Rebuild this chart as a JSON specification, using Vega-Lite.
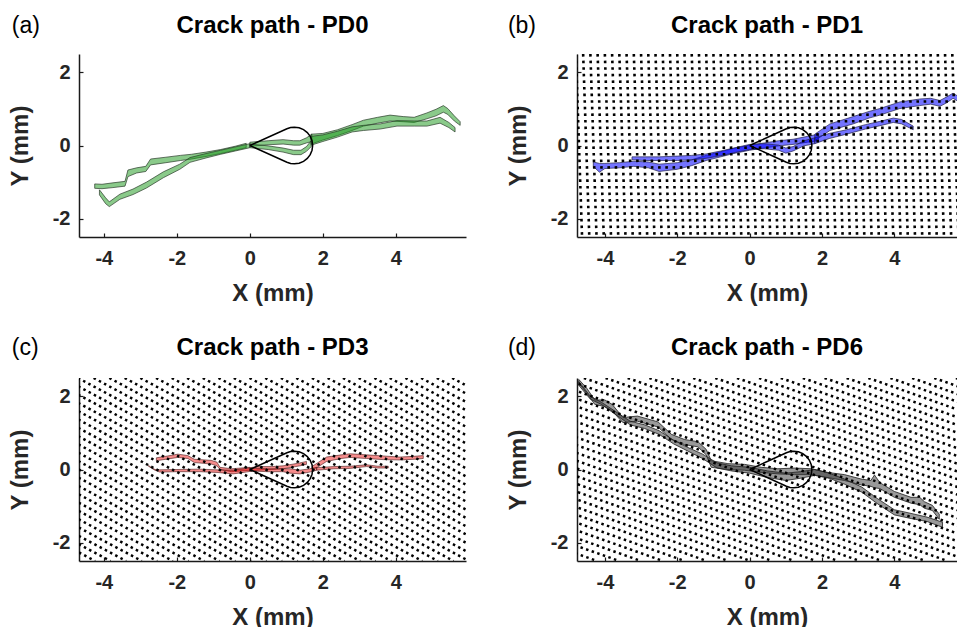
{
  "$schema": "https://vega.github.io/schema/vega-lite/v6.json",
  "background": "white",
  "padding": {"left": 8, "top": 14, "right": 0, "bottom": 0},
  "config": {
    "view": {"stroke": null},
    "font": "Liberation Sans",
    "axis": {"grid": false, "domain": true, "domainColor": "#1a1a1a", "domainOpacity": 1, "domainWidth": 1.5, "ticks": true, "tickColor": "#1a1a1a", "tickOpacity": 1, "tickWidth": 1.2, "tickSize": -4, "zindex": 1, "labelFont": "Liberation Sans", "labelFontWeight": "bold", "labelFontSize": 20, "labelColor": "#262626", "titleFont": "Liberation Sans", "titleFontWeight": "bold", "titleFontSize": 24, "titleColor": "#262626", "labelExpr": "replace(datum.label, '−', '-')"},
    "axisX": {"labelPadding": 15, "titlePadding": 13},
    "axisY": {"labelPadding": 13, "titlePadding": 20},
    "title": {"font": "Liberation Sans", "fontSize": 24, "fontWeight": "bold", "color": "#000000", "offset": -23, "frame": "group"}
  },
  "datasets": {
    "tear": [
      {"o": 0, "x": 0, "y": 0}, {"o": 1, "x": 1.015, "y": 0.456}, {"o": 2, "x": 1.116, "y": 0.489}, {"o": 3, "x": 1.22, "y": 0.5},
      {"o": 4, "x": 1.349, "y": 0.483}, {"o": 5, "x": 1.47, "y": 0.433}, {"o": 6, "x": 1.574, "y": 0.354}, {"o": 7, "x": 1.653, "y": 0.25},
      {"o": 8, "x": 1.703, "y": 0.129}, {"o": 9, "x": 1.72, "y": 0}, {"o": 10, "x": 1.703, "y": -0.129}, {"o": 11, "x": 1.653, "y": -0.25},
      {"o": 12, "x": 1.574, "y": -0.354}, {"o": 13, "x": 1.47, "y": -0.433}, {"o": 14, "x": 1.349, "y": -0.483}, {"o": 15, "x": 1.22, "y": -0.5},
      {"o": 16, "x": 1.116, "y": -0.489}, {"o": 17, "x": 1.015, "y": -0.456}, {"o": 18, "x": 0, "y": 0}
    ],
    "pa": [
      {"b": "a1", "x": -4.25, "y": -1.17, "y2": -1.05}, {"b": "a1", "x": -4.05, "y": -1.18, "y2": -1.06}, {"b": "a1", "x": -3.75, "y": -1.15, "y2": -1.02},
      {"b": "a1", "x": -3.42, "y": -1.11, "y2": -0.98}, {"b": "a1", "x": -3.34, "y": -0.85, "y2": -0.67}, {"b": "a1", "x": -3.1, "y": -0.75, "y2": -0.61},
      {"b": "a1", "x": -2.85, "y": -0.71, "y2": -0.57}, {"b": "a1", "x": -2.72, "y": -0.53, "y2": -0.37}, {"b": "a1", "x": -2.3, "y": -0.47, "y2": -0.32},
      {"b": "a1", "x": -1.9, "y": -0.41, "y2": -0.27}, {"b": "a1", "x": -1.6, "y": -0.37, "y2": -0.24}, {"b": "a1", "x": -1.2, "y": -0.30, "y2": -0.18},
      {"b": "a1", "x": -0.8, "y": -0.22, "y2": -0.11}, {"b": "a1", "x": -0.4, "y": -0.13, "y2": -0.02}, {"b": "a1", "x": -0.1, "y": -0.06, "y2": 0.06},
      {"b": "a2", "x": -4.12, "y": -1.35, "y2": -1.21}, {"b": "a2", "x": -3.95, "y": -1.59, "y2": -1.43}, {"b": "a2", "x": -3.85, "y": -1.67, "y2": -1.54},
      {"b": "a2", "x": -3.56, "y": -1.47, "y2": -1.33}, {"b": "a2", "x": -3.2, "y": -1.34, "y2": -1.19}, {"b": "a2", "x": -2.83, "y": -1.16, "y2": -1.0},
      {"b": "a2", "x": -2.37, "y": -0.88, "y2": -0.72}, {"b": "a2", "x": -1.92, "y": -0.65, "y2": -0.51}, {"b": "a2", "x": -1.64, "y": -0.46, "y2": -0.33},
      {"b": "a2", "x": -1.2, "y": -0.34, "y2": -0.22}, {"b": "a2", "x": -0.8, "y": -0.24, "y2": -0.13}, {"b": "a2", "x": -0.4, "y": -0.15, "y2": -0.04},
      {"b": "a2", "x": 0.0, "y": -0.06, "y2": 0.05},
      {"b": "a3", "x": 0.0, "y": -0.02, "y2": 0.09}, {"b": "a3", "x": 0.5, "y": 0.02, "y2": 0.13}, {"b": "a3", "x": 0.91, "y": 0.04, "y2": 0.16},
      {"b": "a3", "x": 1.2, "y": 0.01, "y2": 0.13}, {"b": "a3", "x": 1.37, "y": 0.01, "y2": 0.13}, {"b": "a3", "x": 1.55, "y": 0.07, "y2": 0.21},
      {"b": "a3", "x": 1.7, "y": 0.11, "y2": 0.31},
      {"b": "a4", "x": 0.0, "y": -0.06, "y2": 0.04}, {"b": "a4", "x": 0.5, "y": -0.11, "y2": -0.01}, {"b": "a4", "x": 0.91, "y": -0.18, "y2": -0.07},
      {"b": "a4", "x": 1.2, "y": -0.25, "y2": -0.13}, {"b": "a4", "x": 1.4, "y": -0.25, "y2": -0.13}, {"b": "a4", "x": 1.55, "y": -0.16, "y2": -0.03},
      {"b": "a4", "x": 1.68, "y": -0.03, "y2": 0.13},
      {"b": "a5", "x": 1.68, "y": 0.04, "y2": 0.31}, {"b": "a5", "x": 2.0, "y": 0.15, "y2": 0.33}, {"b": "a5", "x": 2.4, "y": 0.27, "y2": 0.43},
      {"b": "a5", "x": 2.8, "y": 0.41, "y2": 0.57}, {"b": "a5", "x": 3.11, "y": 0.53, "y2": 0.69}, {"b": "a5", "x": 3.5, "y": 0.61, "y2": 0.77},
      {"b": "a5", "x": 3.84, "y": 0.67, "y2": 0.83}, {"b": "a5", "x": 4.2, "y": 0.65, "y2": 0.79}, {"b": "a5", "x": 4.5, "y": 0.63, "y2": 0.77},
      {"b": "a5", "x": 4.85, "y": 0.73, "y2": 0.89}, {"b": "a5", "x": 5.1, "y": 0.81, "y2": 0.99}, {"b": "a5", "x": 5.3, "y": 0.91, "y2": 1.09},
      {"b": "a5", "x": 5.42, "y": 0.85, "y2": 1.01}, {"b": "a5", "x": 5.6, "y": 0.67, "y2": 0.81}, {"b": "a5", "x": 5.76, "y": 0.55, "y2": 0.65},
      {"b": "a6", "x": 1.68, "y": 0.01, "y2": 0.25}, {"b": "a6", "x": 2.0, "y": 0.11, "y2": 0.29}, {"b": "a6", "x": 2.4, "y": 0.23, "y2": 0.39},
      {"b": "a6", "x": 2.8, "y": 0.37, "y2": 0.51}, {"b": "a6", "x": 3.11, "y": 0.41, "y2": 0.55}, {"b": "a6", "x": 3.57, "y": 0.45, "y2": 0.59},
      {"b": "a6", "x": 4.03, "y": 0.53, "y2": 0.68}, {"b": "a6", "x": 4.5, "y": 0.53, "y2": 0.67}, {"b": "a6", "x": 4.85, "y": 0.53, "y2": 0.67},
      {"b": "a6", "x": 5.21, "y": 0.61, "y2": 0.77}, {"b": "a6", "x": 5.45, "y": 0.49, "y2": 0.63}, {"b": "a6", "x": 5.62, "y": 0.37, "y2": 0.49}
    ],
    "pb": [
      {"b": "b1", "x": -4.32, "y": -0.57, "y2": -0.45}, {"b": "b1", "x": -4.15, "y": -0.73, "y2": -0.49}, {"b": "b1", "x": -4.0, "y": -0.63, "y2": -0.49},
      {"b": "b1", "x": -3.6, "y": -0.61, "y2": -0.47}, {"b": "b1", "x": -3.2, "y": -0.57, "y2": -0.43}, {"b": "b1", "x": -2.8, "y": -0.61, "y2": -0.45},
      {"b": "b1", "x": -2.5, "y": -0.71, "y2": -0.51}, {"b": "b1", "x": -2.0, "y": -0.65, "y2": -0.47}, {"b": "b1", "x": -1.6, "y": -0.55, "y2": -0.39},
      {"b": "b1", "x": -1.2, "y": -0.41, "y2": -0.27}, {"b": "b1", "x": -0.8, "y": -0.31, "y2": -0.17}, {"b": "b1", "x": -0.4, "y": -0.21, "y2": -0.07},
      {"b": "b1", "x": 0.0, "y": -0.13, "y2": 0.01}, {"b": "b1", "x": 0.4, "y": -0.07, "y2": 0.07}, {"b": "b1", "x": 0.8, "y": -0.01, "y2": 0.13},
      {"b": "b1", "x": 1.2, "y": 0.03, "y2": 0.17}, {"b": "b1", "x": 1.6, "y": 0.09, "y2": 0.25}, {"b": "b1", "x": 1.9, "y": 0.13, "y2": 0.31},
      {"b": "b2", "x": -3.25, "y": -0.39, "y2": -0.31}, {"b": "b2", "x": -2.9, "y": -0.41, "y2": -0.31}, {"b": "b2", "x": -2.5, "y": -0.41, "y2": -0.31},
      {"b": "b2", "x": -2.0, "y": -0.41, "y2": -0.29}, {"b": "b2", "x": -1.6, "y": -0.39, "y2": -0.27}, {"b": "b2", "x": -1.2, "y": -0.35, "y2": -0.23},
      {"b": "b2", "x": -0.8, "y": -0.28, "y2": -0.15}, {"b": "b2", "x": -0.4, "y": -0.19, "y2": -0.06}, {"b": "b2", "x": 0.0, "y": -0.11, "y2": 0.03},
      {"b": "b2", "x": 0.4, "y": -0.09, "y2": 0.05}, {"b": "b2", "x": 0.8, "y": -0.13, "y2": 0.01}, {"b": "b2", "x": 1.0, "y": -0.21, "y2": -0.07},
      {"b": "b2", "x": 1.2, "y": -0.15, "y2": -0.03}, {"b": "b2", "x": 1.5, "y": -0.01, "y2": 0.13}, {"b": "b2", "x": 1.8, "y": 0.05, "y2": 0.21},
      {"b": "b3", "x": 1.8, "y": 0.13, "y2": 0.31}, {"b": "b3", "x": 2.22, "y": 0.41, "y2": 0.59}, {"b": "b3", "x": 2.86, "y": 0.59, "y2": 0.79},
      {"b": "b3", "x": 3.3, "y": 0.75, "y2": 0.93}, {"b": "b3", "x": 3.6, "y": 0.83, "y2": 1.01}, {"b": "b3", "x": 4.15, "y": 1.01, "y2": 1.19},
      {"b": "b3", "x": 4.7, "y": 1.09, "y2": 1.27}, {"b": "b3", "x": 5.0, "y": 1.13, "y2": 1.29}, {"b": "b3", "x": 5.26, "y": 1.07, "y2": 1.23},
      {"b": "b3", "x": 5.45, "y": 1.17, "y2": 1.33}, {"b": "b3", "x": 5.62, "y": 1.29, "y2": 1.43}, {"b": "b3", "x": 5.75, "y": 1.21, "y2": 1.35},
      {"b": "b4", "x": 1.8, "y": 0.05, "y2": 0.21}, {"b": "b4", "x": 2.2, "y": 0.19, "y2": 0.33}, {"b": "b4", "x": 2.68, "y": 0.31, "y2": 0.43},
      {"b": "b4", "x": 3.2, "y": 0.45, "y2": 0.57}, {"b": "b4", "x": 3.6, "y": 0.54, "y2": 0.66}, {"b": "b4", "x": 3.97, "y": 0.63, "y2": 0.75},
      {"b": "b4", "x": 4.2, "y": 0.59, "y2": 0.71}, {"b": "b4", "x": 4.52, "y": 0.43, "y2": 0.53}
    ],
    "pc": [
      {"b": "c1", "x": -2.56, "y": 0.24, "y2": 0.32}, {"b": "c1", "x": -2.3, "y": 0.28, "y2": 0.36}, {"b": "c1", "x": -1.97, "y": 0.33, "y2": 0.42},
      {"b": "c1", "x": -1.7, "y": 0.3, "y2": 0.38}, {"b": "c1", "x": -1.52, "y": 0.19, "y2": 0.28}, {"b": "c1", "x": -1.06, "y": 0.15, "y2": 0.25},
      {"b": "c1", "x": -0.9, "y": 0.1, "y2": 0.2}, {"b": "c1", "x": -0.82, "y": 0.0, "y2": 0.06}, {"b": "c1", "x": -0.5, "y": -0.06, "y2": 0.02},
      {"b": "c1", "x": 0.0, "y": -0.02, "y2": 0.06},
      {"b": "c2", "x": -2.78, "y": 0.09, "y2": 0.11}, {"b": "c2", "x": -2.6, "y": -0.02, "y2": 0.0}, {"b": "c2", "x": -2.47, "y": -0.07, "y2": -0.01},
      {"b": "c2", "x": -2.0, "y": -0.06, "y2": 0.0}, {"b": "c2", "x": -1.37, "y": -0.06, "y2": 0.01}, {"b": "c2", "x": -0.9, "y": -0.08, "y2": -0.01},
      {"b": "c2", "x": -0.46, "y": -0.12, "y2": -0.02}, {"b": "c2", "x": -0.1, "y": -0.07, "y2": 0.03}, {"b": "c2", "x": 0.2, "y": -0.02, "y2": 0.08},
      {"b": "c2", "x": 0.6, "y": 0.0, "y2": 0.08}, {"b": "c2", "x": 0.91, "y": 0.02, "y2": 0.1}, {"b": "c2", "x": 1.37, "y": 0.1, "y2": 0.18},
      {"b": "c2", "x": 1.55, "y": 0.14, "y2": 0.22},
      {"b": "c3", "x": 0.0, "y": -0.04, "y2": 0.04}, {"b": "c3", "x": 0.5, "y": -0.06, "y2": 0.02}, {"b": "c3", "x": 0.91, "y": -0.06, "y2": 0.02},
      {"b": "c3", "x": 1.1, "y": -0.1, "y2": 0.02}, {"b": "c3", "x": 1.37, "y": -0.12, "y2": -0.02}, {"b": "c3", "x": 1.64, "y": -0.07, "y2": 0.02},
      {"b": "c3", "x": 1.83, "y": -0.02, "y2": 0.06},
      {"b": "c4", "x": 1.7, "y": 0.0, "y2": 0.08}, {"b": "c4", "x": 1.85, "y": 0.06, "y2": 0.18}, {"b": "c4", "x": 2.1, "y": 0.22, "y2": 0.34},
      {"b": "c4", "x": 2.5, "y": 0.3, "y2": 0.4}, {"b": "c4", "x": 2.74, "y": 0.33, "y2": 0.43}, {"b": "c4", "x": 3.2, "y": 0.3, "y2": 0.4},
      {"b": "c4", "x": 3.65, "y": 0.27, "y2": 0.37}, {"b": "c4", "x": 4.11, "y": 0.26, "y2": 0.34}, {"b": "c4", "x": 4.5, "y": 0.28, "y2": 0.36},
      {"b": "c4", "x": 4.75, "y": 0.3, "y2": 0.38},
      {"b": "c5", "x": 1.83, "y": -0.02, "y2": 0.05}, {"b": "c5", "x": 2.3, "y": 0.02, "y2": 0.08}, {"b": "c5", "x": 2.74, "y": 0.03, "y2": 0.09},
      {"b": "c5", "x": 3.2, "y": 0.08, "y2": 0.13}, {"b": "c5", "x": 3.5, "y": 0.04, "y2": 0.09}, {"b": "c5", "x": 3.79, "y": 0.04, "y2": 0.09}
    ],
    "pd": [
      {"b": "d1", "x": -4.72, "y": 2.36, "y2": 2.46}, {"b": "d1", "x": -4.5, "y": 2.08, "y2": 2.22}, {"b": "d1", "x": -4.28, "y": 1.78, "y2": 1.9},
      {"b": "d1", "x": -4.0, "y": 1.72, "y2": 1.9}, {"b": "d1", "x": -3.8, "y": 1.6, "y2": 1.78}, {"b": "d1", "x": -3.5, "y": 1.28, "y2": 1.42},
      {"b": "d1", "x": -3.1, "y": 1.32, "y2": 1.46}, {"b": "d1", "x": -2.53, "y": 1.16, "y2": 1.3}, {"b": "d1", "x": -2.16, "y": 0.82, "y2": 0.96},
      {"b": "d1", "x": -1.8, "y": 0.68, "y2": 0.82}, {"b": "d1", "x": -1.43, "y": 0.62, "y2": 0.76}, {"b": "d1", "x": -1.2, "y": 0.4, "y2": 0.55},
      {"b": "d1", "x": -1.06, "y": 0.06, "y2": 0.24}, {"b": "d1", "x": -0.6, "y": 0.0, "y2": 0.16}, {"b": "d1", "x": -0.14, "y": -0.02, "y2": 0.14},
      {"b": "d1", "x": 0.32, "y": -0.08, "y2": 0.06}, {"b": "d1", "x": 0.78, "y": -0.12, "y2": 0.02}, {"b": "d1", "x": 1.24, "y": -0.14, "y2": 0.04},
      {"b": "d1", "x": 1.7, "y": -0.14, "y2": 0.02}, {"b": "d1", "x": 2.16, "y": -0.22, "y2": -0.08}, {"b": "d1", "x": 2.62, "y": -0.3, "y2": -0.14},
      {"b": "d1", "x": 3.08, "y": -0.42, "y2": -0.26}, {"b": "d1", "x": 3.35, "y": -0.46, "y2": -0.3}, {"b": "d1", "x": 3.45, "y": -0.5, "y2": -0.15},
      {"b": "d1", "x": 3.6, "y": -0.52, "y2": -0.36}, {"b": "d1", "x": 4.0, "y": -0.76, "y2": -0.6}, {"b": "d1", "x": 4.46, "y": -0.92, "y2": -0.76},
      {"b": "d1", "x": 4.7, "y": -0.96, "y2": -0.76}, {"b": "d1", "x": 4.83, "y": -1.06, "y2": -0.88}, {"b": "d1", "x": 5.05, "y": -1.12, "y2": -0.98},
      {"b": "d1", "x": 5.24, "y": -1.36, "y2": -1.22},
      {"b": "d2", "x": -4.72, "y": 2.3, "y2": 2.4}, {"b": "d2", "x": -4.4, "y": 1.92, "y2": 2.0}, {"b": "d2", "x": -4.1, "y": 1.78, "y2": 1.84},
      {"b": "d2", "x": -3.7, "y": 1.5, "y2": 1.58}, {"b": "d2", "x": -3.3, "y": 1.22, "y2": 1.32}, {"b": "d2", "x": -2.9, "y": 1.12, "y2": 1.22},
      {"b": "d2", "x": -2.5, "y": 0.96, "y2": 1.06}, {"b": "d2", "x": -2.1, "y": 0.7, "y2": 0.8}, {"b": "d2", "x": -1.7, "y": 0.5, "y2": 0.6},
      {"b": "d2", "x": -1.3, "y": 0.3, "y2": 0.42}, {"b": "d2", "x": -0.9, "y": 0.04, "y2": 0.18}, {"b": "d2", "x": -0.5, "y": -0.04, "y2": 0.1},
      {"b": "d2", "x": 0.0, "y": -0.1, "y2": 0.06}, {"b": "d2", "x": 0.5, "y": -0.22, "y2": -0.04}, {"b": "d2", "x": 1.0, "y": -0.3, "y2": -0.1},
      {"b": "d2", "x": 1.4, "y": -0.24, "y2": -0.06}, {"b": "d2", "x": 1.8, "y": -0.16, "y2": 0.0}, {"b": "d2", "x": 2.2, "y": -0.24, "y2": -0.1},
      {"b": "d2", "x": 2.62, "y": -0.4, "y2": -0.26}, {"b": "d2", "x": 3.1, "y": -0.62, "y2": -0.48}, {"b": "d2", "x": 3.54, "y": -0.94, "y2": -0.8},
      {"b": "d2", "x": 4.0, "y": -1.24, "y2": -1.1}, {"b": "d2", "x": 4.46, "y": -1.34, "y2": -1.2}, {"b": "d2", "x": 4.9, "y": -1.42, "y2": -1.3},
      {"b": "d2", "x": 5.33, "y": -1.58, "y2": -1.44}
    ],
    "hb": [
      {"x": -5.0, "x2": -4.83}, {"x": -4.8, "x2": -4.63}, {"x": -4.6, "x2": -4.43}, {"x": -4.4, "x2": -4.23}, {"x": -4.2, "x2": -4.03},
      {"x": -4.0, "x2": -3.83}, {"x": -3.8, "x2": -3.63}, {"x": -3.6, "x2": -3.43}, {"x": -3.4, "x2": -3.23}, {"x": -3.2, "x2": -3.03},
      {"x": -3.0, "x2": -2.83}, {"x": -2.8, "x2": -2.63}, {"x": -2.6, "x2": -2.43}, {"x": -2.4, "x2": -2.23}, {"x": -2.2, "x2": -2.03},
      {"x": -2.0, "x2": -1.83}, {"x": -1.8, "x2": -1.63}, {"x": -1.6, "x2": -1.43}, {"x": -1.4, "x2": -1.23}, {"x": -1.2, "x2": -1.03},
      {"x": -1.0, "x2": -0.83}, {"x": -0.8, "x2": -0.63}, {"x": -0.6, "x2": -0.43}, {"x": -0.4, "x2": -0.23}, {"x": -0.2, "x2": -0.03},
      {"x": 0.0, "x2": 0.17}, {"x": 0.2, "x2": 0.37}, {"x": 0.4, "x2": 0.57}, {"x": 0.6, "x2": 0.77}, {"x": 0.8, "x2": 0.97},
      {"x": 1.0, "x2": 1.17}, {"x": 1.2, "x2": 1.37}, {"x": 1.4, "x2": 1.57}, {"x": 1.6, "x2": 1.77}, {"x": 1.8, "x2": 1.97},
      {"x": 2.0, "x2": 2.17}, {"x": 2.2, "x2": 2.37}, {"x": 2.4, "x2": 2.57}, {"x": 2.6, "x2": 2.77}, {"x": 2.8, "x2": 2.97},
      {"x": 3.0, "x2": 3.17}, {"x": 3.2, "x2": 3.37}, {"x": 3.4, "x2": 3.57}, {"x": 3.6, "x2": 3.77}, {"x": 3.8, "x2": 3.97},
      {"x": 4.0, "x2": 4.17}, {"x": 4.2, "x2": 4.37}, {"x": 4.4, "x2": 4.57}, {"x": 4.6, "x2": 4.77}, {"x": 4.8, "x2": 4.97},
      {"x": 5.0, "x2": 5.17}, {"x": 5.2, "x2": 5.37}, {"x": 5.4, "x2": 5.57}, {"x": 5.6, "x2": 5.77}, {"x": 5.8, "x2": 5.97}
    ],
    "hc": [
      {"x": -14.10, "x2": -4.67}, {"x": -13.67, "x2": -4.24}, {"x": -13.25, "x2": -3.82}, {"x": -12.82, "x2": -3.39}, {"x": -12.39, "x2": -2.96},
      {"x": -11.97, "x2": -2.54}, {"x": -11.54, "x2": -2.11}, {"x": -11.11, "x2": -1.68}, {"x": -10.68, "x2": -1.25}, {"x": -10.26, "x2": -0.83},
      {"x": -9.83, "x2": -0.40}, {"x": -9.40, "x2": 0.03}, {"x": -8.98, "x2": 0.45}, {"x": -8.55, "x2": 0.88}, {"x": -8.12, "x2": 1.31},
      {"x": -7.70, "x2": 1.73}, {"x": -7.27, "x2": 2.16}, {"x": -6.84, "x2": 2.59}, {"x": -6.41, "x2": 3.02}, {"x": -5.99, "x2": 3.44},
      {"x": -5.56, "x2": 3.87}, {"x": -5.13, "x2": 4.30}, {"x": -4.71, "x2": 4.72}, {"x": -4.28, "x2": 5.15}, {"x": -3.85, "x2": 5.58},
      {"x": -3.43, "x2": 6.00}, {"x": -3.00, "x2": 6.43}, {"x": -2.57, "x2": 6.86}, {"x": -2.14, "x2": 7.29}, {"x": -1.72, "x2": 7.71},
      {"x": -1.29, "x2": 8.14}, {"x": -0.86, "x2": 8.57}, {"x": -0.44, "x2": 8.99}, {"x": -0.01, "x2": 9.42}, {"x": 0.42, "x2": 9.85},
      {"x": 0.85, "x2": 10.28}, {"x": 1.27, "x2": 10.70}, {"x": 1.70, "x2": 11.13}, {"x": 2.13, "x2": 11.56}, {"x": 2.55, "x2": 11.98},
      {"x": 2.98, "x2": 12.41}, {"x": 3.41, "x2": 12.84}, {"x": 3.83, "x2": 13.26}, {"x": 4.26, "x2": 13.69}, {"x": 4.69, "x2": 14.12},
      {"x": 5.12, "x2": 14.55}, {"x": 5.54, "x2": 14.97}, {"x": 5.97, "x2": 15.40}
    ],
    "hd": [
      {"x": -19.10, "x2": -4.81}, {"x": -18.50, "x2": -4.21}, {"x": -17.89, "x2": -3.60}, {"x": -17.29, "x2": -3.00}, {"x": -16.68, "x2": -2.39},
      {"x": -16.08, "x2": -1.79}, {"x": -15.47, "x2": -1.18}, {"x": -14.87, "x2": -0.58}, {"x": -14.26, "x2": 0.03}, {"x": -13.66, "x2": 0.63},
      {"x": -13.05, "x2": 1.24}, {"x": -12.45, "x2": 1.84}, {"x": -11.84, "x2": 2.45}, {"x": -11.24, "x2": 3.05}, {"x": -10.63, "x2": 3.66},
      {"x": -10.03, "x2": 4.26}, {"x": -9.42, "x2": 4.87}, {"x": -8.82, "x2": 5.47}, {"x": -8.21, "x2": 6.08}, {"x": -7.61, "x2": 6.68},
      {"x": -7.00, "x2": 7.29}, {"x": -6.40, "x2": 7.89}, {"x": -5.79, "x2": 8.50}, {"x": -5.19, "x2": 9.10}, {"x": -4.58, "x2": 9.71},
      {"x": -3.98, "x2": 10.31}, {"x": -3.37, "x2": 10.92}, {"x": -2.77, "x2": 11.52}, {"x": -2.16, "x2": 12.13}, {"x": -1.56, "x2": 12.73},
      {"x": -0.95, "x2": 13.34}, {"x": -0.35, "x2": 13.94}, {"x": 0.26, "x2": 14.55}, {"x": 0.86, "x2": 15.15}, {"x": 1.47, "x2": 15.76},
      {"x": 2.07, "x2": 16.36}, {"x": 2.68, "x2": 16.97}, {"x": 3.28, "x2": 17.57}, {"x": 3.89, "x2": 18.18}, {"x": 4.49, "x2": 18.78},
      {"x": 5.10, "x2": 19.39}, {"x": 5.70, "x2": 19.99}
    ]
  },
  "columns": 2,
  "spacing": {"row": 141, "column": 111},
  "bounds": "flush",
  "concat": [
    {
      "width": 387, "height": 183,
      "title": {"text": "Crack path - PD0"},
      "layer": [
        {"data": {"name": "pa"}, "mark": {"type": "area", "fill": "#1f9a1f", "fillOpacity": 0.52, "stroke": "#2b3b2b", "strokeWidth": 0.7, "clip": true},
         "encoding": {
           "x": {"field": "x", "type": "quantitative", "scale": {"domain": [-4.68, 5.92], "nice": false, "zero": false}, "axis": {"title": "X (mm)", "values": [-4, -2, 0, 2, 4], "domain": true, "ticks": true}},
           "y": {"field": "y", "type": "quantitative", "scale": {"domain": [-2.5, 2.5], "nice": false, "zero": false}, "axis": {"title": "Y (mm)", "values": [-2, 0, 2], "domain": true, "ticks": true}},
           "y2": {"field": "y2"}, "detail": {"field": "b"}}},
        {"data": {"name": "tear"}, "mark": {"type": "line", "color": "#000000", "strokeWidth": 1.5},
         "encoding": {"x": {"field": "x", "type": "quantitative"}, "y": {"field": "y", "type": "quantitative"}, "order": {"field": "o"}}},
        {"data": {"values": [{"t": "(a)"}]}, "mark": {"type": "text", "fontSize": 23, "align": "left", "baseline": "alphabetic", "color": "#000000"},
         "encoding": {"x": {"datum": -6.52}, "y": {"datum": 3.07}, "text": {"field": "t"}}}
      ]
    },
    {
      "width": 380, "height": 183,
      "title": {"text": "Crack path - PD1"},
      "layer": [
        {"data": {"name": "pb"}, "mark": {"type": "area", "fill": "#0000ff", "fillOpacity": 0.55, "stroke": "#22224a", "strokeWidth": 0.7, "clip": true},
         "encoding": {
           "x": {"field": "x", "type": "quantitative", "scale": {"domain": [-4.77, 5.73], "nice": false, "zero": false}, "axis": {"title": "X (mm)", "values": [-4, -2, 0, 2, 4], "domain": true, "ticks": true}},
           "y": {"field": "y", "type": "quantitative", "scale": {"domain": [-2.5, 2.5], "nice": false, "zero": false}, "axis": {"title": "Y (mm)", "values": [-2, 0, 2], "domain": true, "ticks": true}},
           "y2": {"field": "y2"}, "detail": {"field": "b"}}},
        {"data": {"name": "hb"}, "mark": {"type": "rule", "color": "#000000", "strokeWidth": 2.6, "strokeDash": [2.6, 4.0], "strokeCap": "butt", "clip": true},
         "encoding": {"x": {"field": "x", "type": "quantitative"}, "x2": {"field": "x2"}, "y": {"datum": 2.5}, "y2": {"datum": -2.5}}},
        {"data": {"name": "tear"}, "mark": {"type": "line", "color": "#000000", "strokeWidth": 1.5},
         "encoding": {"x": {"field": "x", "type": "quantitative"}, "y": {"field": "y", "type": "quantitative"}, "order": {"field": "o"}}},
        {"data": {"values": [{"t": "(b)"}]}, "mark": {"type": "text", "fontSize": 23, "align": "left", "baseline": "alphabetic", "color": "#000000"},
         "encoding": {"x": {"datum": -6.68}, "y": {"datum": 3.07}, "text": {"field": "t"}}}
      ]
    },
    {
      "width": 387, "height": 183,
      "title": {"text": "Crack path - PD3"},
      "layer": [
        {"data": {"name": "pc"}, "mark": {"type": "area", "fill": "#e80000", "fillOpacity": 0.45, "stroke": "#4a1a1a", "strokeWidth": 0.6, "clip": true},
         "encoding": {
           "x": {"field": "x", "type": "quantitative", "scale": {"domain": [-4.68, 5.92], "nice": false, "zero": false}, "axis": {"title": "X (mm)", "values": [-4, -2, 0, 2, 4], "domain": true, "ticks": true}},
           "y": {"field": "y", "type": "quantitative", "scale": {"domain": [-2.5, 2.5], "nice": false, "zero": false}, "axis": {"title": "Y (mm)", "values": [-2, 0, 2], "domain": true, "ticks": true}},
           "y2": {"field": "y2"}, "detail": {"field": "b"}}},
        {"data": {"name": "hc"}, "mark": {"type": "rule", "color": "#000000", "strokeWidth": 2.5, "strokeDash": [2.5, 3.4], "strokeCap": "butt", "clip": true},
         "encoding": {"x": {"field": "x", "type": "quantitative"}, "x2": {"field": "x2"}, "y": {"datum": 2.5}, "y2": {"datum": -2.5}}},
        {"data": {"name": "tear"}, "mark": {"type": "line", "color": "#000000", "strokeWidth": 1.5},
         "encoding": {"x": {"field": "x", "type": "quantitative"}, "y": {"field": "y", "type": "quantitative"}, "order": {"field": "o"}}},
        {"data": {"values": [{"t": "(c)"}]}, "mark": {"type": "text", "fontSize": 23, "align": "left", "baseline": "alphabetic", "color": "#000000"},
         "encoding": {"x": {"datum": -6.52}, "y": {"datum": 3.12}, "text": {"field": "t"}}}
      ]
    },
    {
      "width": 380, "height": 183,
      "title": {"text": "Crack path - PD6"},
      "layer": [
        {"data": {"name": "pd"}, "mark": {"type": "area", "fill": "#333333", "fillOpacity": 0.5, "stroke": "#1e1e1e", "strokeWidth": 0.8, "clip": true},
         "encoding": {
           "x": {"field": "x", "type": "quantitative", "scale": {"domain": [-4.77, 5.73], "nice": false, "zero": false}, "axis": {"title": "X (mm)", "values": [-4, -2, 0, 2, 4], "domain": true, "ticks": true}},
           "y": {"field": "y", "type": "quantitative", "scale": {"domain": [-2.5, 2.5], "nice": false, "zero": false}, "axis": {"title": "Y (mm)", "values": [-2, 0, 2], "domain": true, "ticks": true}},
           "y2": {"field": "y2"}, "detail": {"field": "b"}}},
        {"data": {"name": "hd"}, "mark": {"type": "rule", "color": "#000000", "strokeWidth": 2.5, "strokeDash": [2.5, 3.4], "strokeCap": "butt", "clip": true},
         "encoding": {"x": {"field": "x", "type": "quantitative"}, "x2": {"field": "x2"}, "y": {"datum": 2.5}, "y2": {"datum": -2.5}}},
        {"data": {"name": "tear"}, "mark": {"type": "line", "color": "#000000", "strokeWidth": 1.5},
         "encoding": {"x": {"field": "x", "type": "quantitative"}, "y": {"field": "y", "type": "quantitative"}, "order": {"field": "o"}}},
        {"data": {"values": [{"t": "(d)"}]}, "mark": {"type": "text", "fontSize": 23, "align": "left", "baseline": "alphabetic", "color": "#000000"},
         "encoding": {"x": {"datum": -6.68}, "y": {"datum": 3.12}, "text": {"field": "t"}}}
      ]
    }
  ]
}
